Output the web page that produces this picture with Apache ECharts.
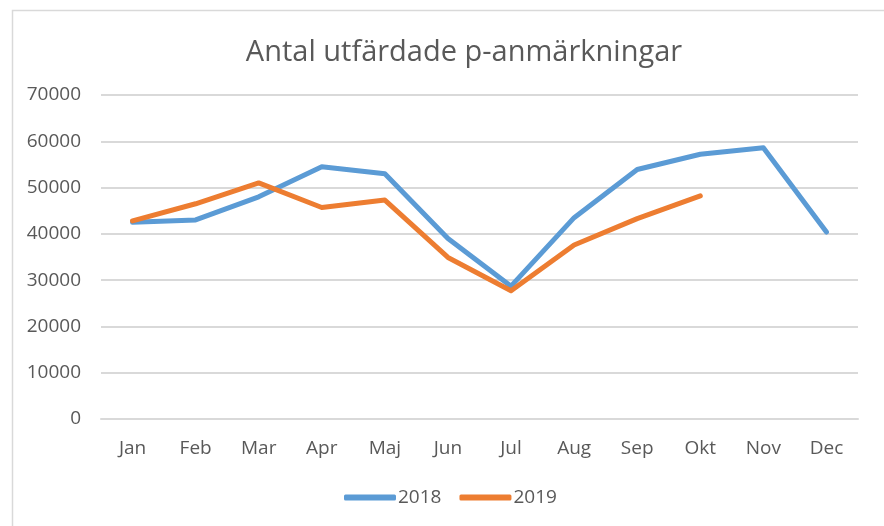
<!DOCTYPE html>
<html>
<head>
<meta charset="utf-8">
<script src="https://cdn.jsdelivr.net/npm/echarts@6/dist/echarts.min.js"></script>
<style>html,body{margin:0;padding:0;background:#fff;}#c{width:884px;height:526px;}</style>
</head>
<body>
<div id="c"></div>
<script>
var titleText = 'Antal utfärdade p-anmärkningar';
var months = ['Jan','Feb','Mar','Apr','Maj','Jun','Jul','Aug','Sep','Okt','Nov','Dec'];
var seriesNames = ['2018','2019'];
var values2018 = [42500, 43000, 48000, 54500, 53000, 39000, 28700, 43500, 53900, 57200, 58600, 40400];
var values2019 = [42800, 46500, 51000, 45700, 47300, 34900, 27700, 37600, 43300, 48200];
var yMin = 0, yMax = 70000, yStep = 10000;

var font = "'Open Sans', sans-serif";
var chart = echarts.init(document.getElementById('c'));
chart.setOption({
  animation: false,
  backgroundColor: '#fff',
  graphic: [{
    type: 'rect', left: 10, top: 8, silent: true,
    shape: { width: 900, height: 600 },
    style: { fill: 'none', stroke: '#d9d9d9', lineWidth: 1.5 }
  }],
  title: {
    text: titleText, left: 459, textAlign: 'center', top: 33,
    textStyle: { fontFamily: font, fontSize: 29, fontWeight: 'normal', color: '#595959' }
  },
  legend: {
    data: seriesNames, bottom: 14, left: 339,
    icon: 'roundRect', itemWidth: 52, itemHeight: 6, itemGap: 18,
    textStyle: { fontFamily: font, fontSize: 19, color: '#595959', padding: [0,0,0,-3] }
  },
  grid: { left: 101, right: 26, top: 95, bottom: 107 },
  xAxis: {
    type: 'category', data: months, boundaryGap: true,
    axisLine: { show: true, lineStyle: { color: '#d9d9d9', width: 2 } },
    axisTick: { show: false },
    axisLabel: { fontFamily: font, fontSize: 19, color: '#595959', margin: 20 }
  },
  yAxis: {
    type: 'value', min: yMin, max: yMax, interval: yStep,
    axisLine: { show: false }, axisTick: { show: false },
    axisLabel: { fontFamily: font, fontSize: 19, color: '#595959', margin: 20,
      formatter: function (v) { return String(v); } },
    splitLine: { lineStyle: { color: '#d9d9d9', width: 2 } }
  },
  series: [
    { name: seriesNames[0], type: 'line', data: values2018, symbol: 'none', color: '#5B9BD5',
      lineStyle: { width: 5, color: '#5B9BD5', cap: 'round', join: 'round' } },
    { name: seriesNames[1], type: 'line', data: values2019, symbol: 'none', color: '#ED7D31',
      lineStyle: { width: 5, color: '#ED7D31', cap: 'round', join: 'round' } }
  ]
});
</script>
</body>
</html>
